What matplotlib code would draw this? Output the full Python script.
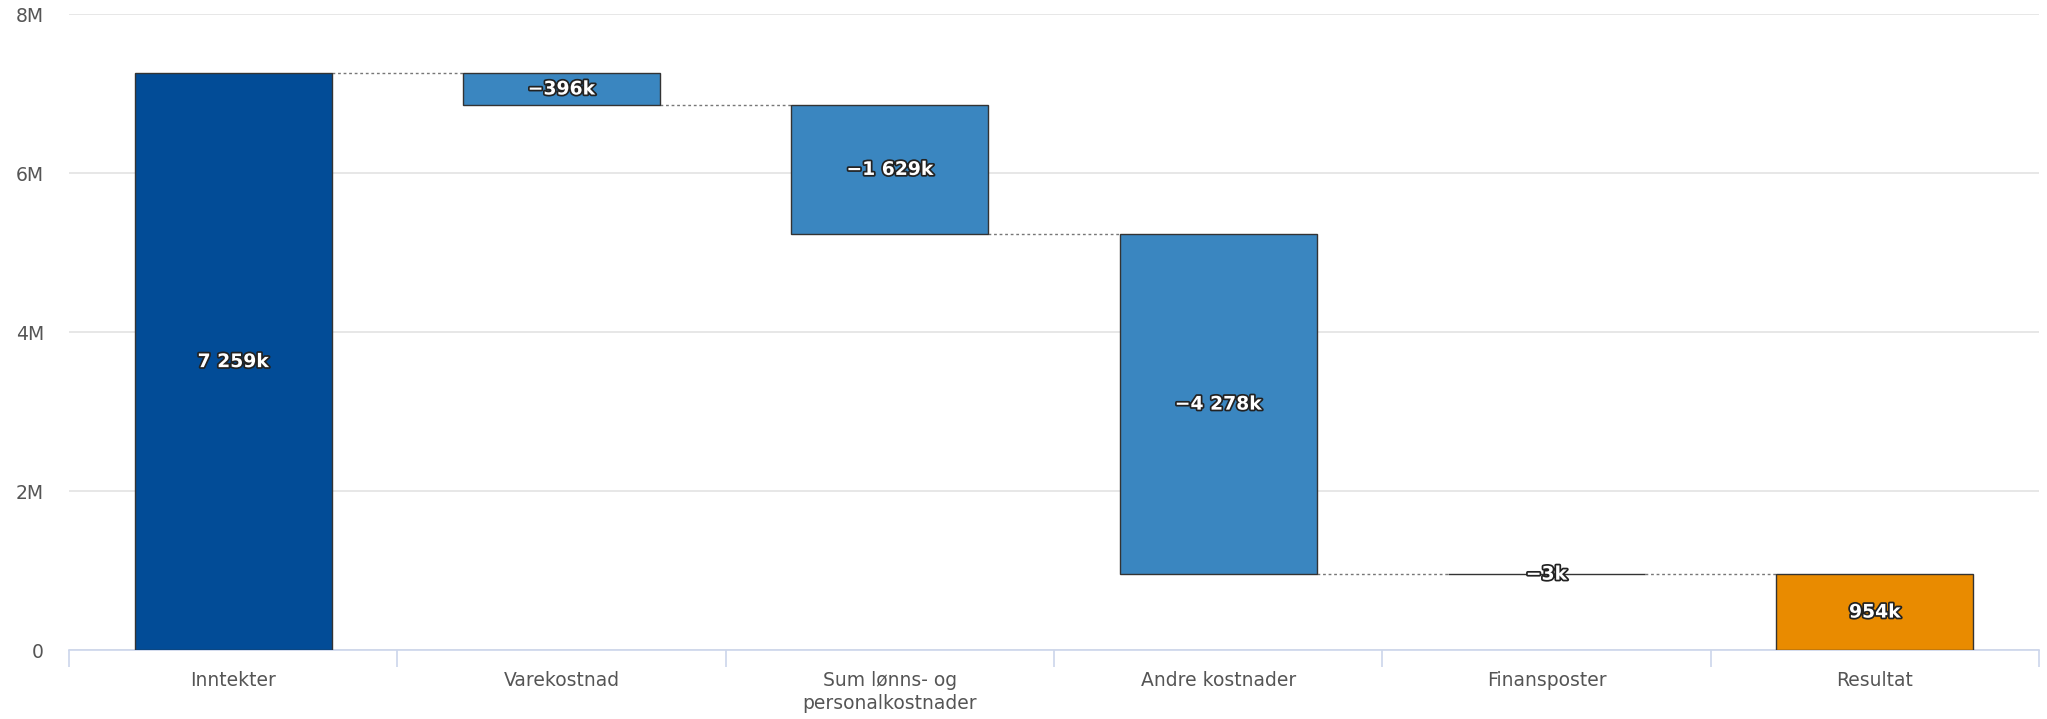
import matplotlib
matplotlib.use("Agg")
import matplotlib.pyplot as plt
import matplotlib.patheffects as pe
from matplotlib.ticker import FixedLocator

categories = ["Inntekter", "Varekostnad", "Sum lønns- og\npersonalkostnader",
              "Andre kostnader", "Finansposter", "Resultat"]
values_k = [7259, -396, -1629, -4278, -3, 954]
labels = ["7 259k", "\u2212396k", "\u22121 629k", "\u22124 278k", "\u22123k", "954k"]
kinds = ["start", "delta", "delta", "delta", "delta", "total"]
yticks = [0, 2e6, 4e6, 6e6, 8e6]
ytick_labels = ["0", "2M", "4M", "6M", "8M"]

colors = {"start": "#024c97", "delta": "#3a86c0", "total": "#e98b00"}

fig = plt.figure(figsize=(20.47, 7.19), dpi=100)
ax = fig.add_axes([69 / 2047, 1 - 650 / 719, (2039 - 69) / 2047, (650 - 14.4) / 719])

width = 0.6
level = 0.0
ends = []
for i, (v, kind) in enumerate(zip(values_k, kinds)):
    val = v * 1000
    if kind == "start":
        bottom, top = 0, val
        level = val
    elif kind == "delta":
        bottom, top = level + val, level
        level = level + val
    else:
        bottom, top = 0, val
    h = top - bottom
    ax.bar(i, h, bottom=bottom, width=width, color=colors[kind],
           edgecolor="#333333", linewidth=1.0, zorder=3)
    ends.append((bottom, top, level))
    ax.text(i, bottom + h / 2, labels[i], ha="center", va="center",
            fontsize=13.5, fontweight="bold", color="white", zorder=5,
            path_effects=[pe.withStroke(linewidth=2.5, foreground="#222222")])

# connectors
for i in range(len(values_k) - 1):
    lvl = ends[i][2] if kinds[i] != "total" else ends[i][1]
    ax.plot([i + width / 2, i + 1 - width / 2], [lvl, lvl], color="#777777",
            linewidth=1.0, linestyle=(0, (2, 2)), zorder=2)

ax.set_xlim(-0.5, len(categories) - 0.5)
ax.set_ylim(0, 8e6)
ax.yaxis.set_major_locator(FixedLocator(yticks))
ax.set_yticklabels(ytick_labels)
ax.grid(axis="y", color="#e3e3e3", linewidth=1.2, zorder=0)
ax.set_axisbelow(True)

for s in ["top", "right", "left"]:
    ax.spines[s].set_visible(False)
ax.spines["bottom"].set_color("#ccd6eb")
ax.spines["bottom"].set_linewidth(1.2)

ax.set_xticks(range(len(categories)))
ax.set_xticklabels(categories, fontsize=13.5, color="#555555", linespacing=1.25)
ax.tick_params(axis="x", length=0, pad=15)
ax.set_xticks([i - 0.5 for i in range(len(categories) + 1)], minor=True)
ax.tick_params(axis="x", which="minor", length=12, color="#ccd6eb", width=1.2)
ax.tick_params(axis="y", length=0, labelsize=13.5, labelcolor="#555555", pad=18)

fig.savefig("out.png", dpi=100, facecolor="white")
